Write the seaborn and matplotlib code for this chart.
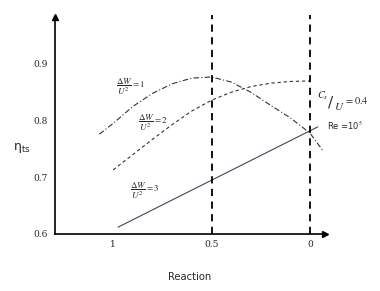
import matplotlib
matplotlib.use("Agg")
import matplotlib.pyplot as plt
import seaborn as sns
import pandas as pd

# Data
x_w1 = [1.07, 1.0, 0.9, 0.8, 0.7, 0.6, 0.5, 0.4, 0.3, 0.2, 0.1, 0.0, -0.07]
y_w1 = [0.776, 0.795, 0.825, 0.848, 0.865, 0.875, 0.877, 0.868, 0.850, 0.827, 0.805, 0.778, 0.745]
x_w2 = [1.0, 0.9, 0.8, 0.7, 0.6, 0.5, 0.4, 0.3, 0.2, 0.1, 0.0]
y_w2 = [0.713, 0.740, 0.767, 0.793, 0.817, 0.836, 0.850, 0.860, 0.866, 0.869, 0.870]
x_w3 = [0.975, -0.04]
y_w3 = [0.612, 0.789]
x_ticks = [1, 0.5, 0]
x_tick_labels = ["1", "0.5", "0"]
y_ticks = [0.6, 0.7, 0.8, 0.9]
y_tick_labels = ["0.6", "0.7", "0.8", "0.9"]
vlines = [0.5, 0.0]

sns.set_style("white")
plt.rcParams["mathtext.fontset"] = "stix"

fig = plt.figure(figsize=(3.8, 2.91), dpi=100)
ax = fig.add_axes([0.145, 0.196, 0.710, 0.746])

df1 = pd.DataFrame({"x": x_w1, "y": y_w1})
df2 = pd.DataFrame({"x": x_w2, "y": y_w2})
df3 = pd.DataFrame({"x": x_w3, "y": y_w3})
sns.lineplot(data=df1, x="x", y="y", sort=False, ax=ax, color="#333333", lw=0.8)
ax.lines[-1].set_dashes([5, 2, 1, 2])
sns.lineplot(data=df2, x="x", y="y", sort=False, ax=ax, color="#333333", lw=0.8)
ax.lines[-1].set_dashes([3, 2.5])
sns.lineplot(data=df3, x="x", y="y", sort=False, ax=ax, color="#3c4a58", lw=0.8)

for v in vlines:
    ax.axvline(v, ymin=0, ymax=1.01, color="black", lw=1.3, dashes=(4, 3), clip_on=False)

ax.set_xlim(1.295, -0.076)
ax.set_ylim(0.6, 0.983)
ax.set_xticks(x_ticks)
ax.set_xticklabels(x_tick_labels, fontfamily="DejaVu Serif", fontsize=6.5)
ax.set_yticks(y_ticks)
ax.set_yticklabels(y_tick_labels, fontfamily="DejaVu Serif", fontsize=6.5)
ax.tick_params(axis="both", direction="in", length=6, width=1.2, color="black", pad=4)
ax.tick_params(axis="y", pad=5)

for s in ["top", "right"]:
    ax.spines[s].set_visible(False)
for s in ["left", "bottom"]:
    ax.spines[s].set_color("black")
    ax.spines[s].set_linewidth(1.2)

ax.plot(1, 0, ">k", transform=ax.transAxes, clip_on=False, ms=5)
ax.plot(0, 1, "^k", transform=ax.transAxes, clip_on=False, ms=5)

ax.set_xlabel("Reaction", fontsize=7.2, labelpad=17, fontweight="medium")
ax.set_ylabel("")
fig.text(0.035, 0.49, r"$\mathregular{\eta_{ts}}$", fontsize=9, ha="left", va="center")

ax.text(0.985, 0.860, r"$\dfrac{\Delta W}{U^2}=1$", fontsize=6.5, ha="left", va="center")
ax.text(0.875, 0.796, r"$\dfrac{\Delta W}{U^2}=2$", fontsize=6.5, ha="left", va="center")
ax.text(0.915, 0.676, r"$\dfrac{\Delta W}{U^2}=3$", fontsize=6.5, ha="left", va="center")

# C_s / U = 0.4 built from pieces (figure pixel positions / size)
W, H = 380.0, 291.0
fig.text(317 / W, 1 - 96 / H, r"$C_s$", fontsize=7.5, ha="left", va="center")
fig.text(328 / W, 1 - 102 / H, "/", fontsize=11, ha="left", va="center",
         fontfamily="DejaVu Serif")
fig.text(334 / W, 1 - 107 / H, r"$U$", fontsize=8, ha="left", va="center")
fig.text(344 / W, 1 - 101 / H, r"$=0.4$", fontsize=7.5, ha="left", va="center")
ax.text(-0.085, 0.790, r"Re =10$^5$", fontsize=6, ha="left", va="center", clip_on=False)

fig.savefig("out.png", dpi=100)
